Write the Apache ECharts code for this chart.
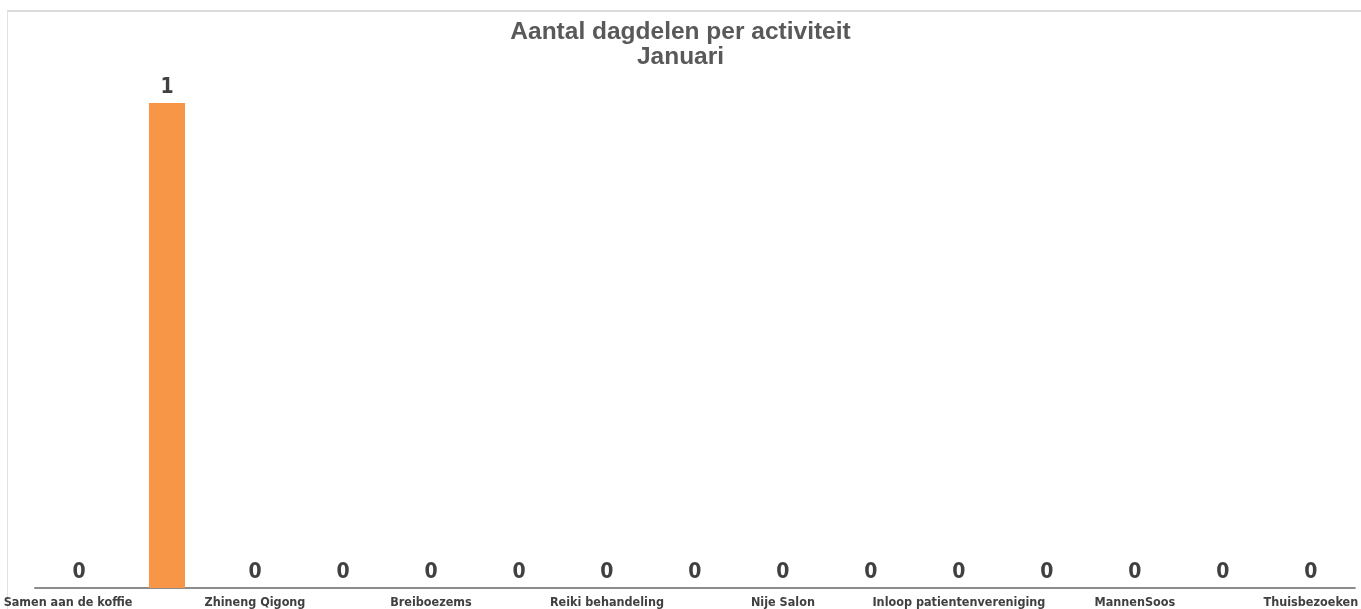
<!DOCTYPE html>
<html><head><meta charset="utf-8">
<script src="https://cdn.jsdelivr.net/npm/echarts@6/dist/echarts.min.js"></script>
<style>
html,body{margin:0;padding:0;background:#fff;}
#frame{position:absolute;left:7px;top:10px;width:1354px;height:599px;border-top:2px solid #dadada;border-left:1px solid #e2e2e2;box-sizing:border-box;}
#c{position:absolute;left:0;top:0;width:1361px;height:609px;}
</style></head>
<body>
<div id="frame"></div>
<div id="c"></div>
<script>
const categories = ["Samen aan de koffie","Activiteit 2","Zhineng Qigong","Activiteit 4","Breiboezems","Activiteit 6","Reiki behandeling","Activiteit 8","Nije Salon","Activiteit 10","Inloop patientenvereniging","Activiteit 12","MannenSoos","Activiteit 14","Thuisbezoeken"];
const values = [0,1,0,0,0,0,0,0,0,0,0,0,0,0,0];
const titleText = "Aantal dagdelen per activiteit\nJanuari";

const narrow = 'Liberation Sans Narrow, DejaVu Sans Condensed, Arial, sans-serif';
const chart = echarts.init(document.getElementById('c'));
chart.setOption({
  animation:false,
  title:{text:titleText,left:'center',top:15,textStyle:{fontFamily:'Liberation Sans, Arial, sans-serif',fontSize:24.5,fontWeight:'bold',color:'#595959',lineHeight:25}},
  grid:{left:35,right:1,top:103,bottom:19,containLabel:false},
  xAxis:{type:'category',data:categories,
    axisLine:{lineStyle:{color:'#8c8c8c',width:2}},
    axisTick:{show:false},
    axisLabel:{interval:1,margin:8,color:'#404040',fontSize:12.5,fontWeight:'bold',fontFamily:narrow,
      formatter:(v,i)=> i===0 ? '{a|'+v+'}' : v,
      rich:{a:{padding:[0,22,0,0],color:'#404040',fontSize:12.5,fontWeight:'bold',fontFamily:narrow}}}
  },
  yAxis:{type:'value',min:0,max:1,show:false,splitLine:{show:false}},
  series:[{type:'bar',data:values,barWidth:'41%',itemStyle:{color:'#F79646'},
    label:{show:true,position:'top',distance:5,color:'#404040',fontSize:21,fontWeight:'bold',fontFamily:narrow}}]
});
</script>
</body></html>
